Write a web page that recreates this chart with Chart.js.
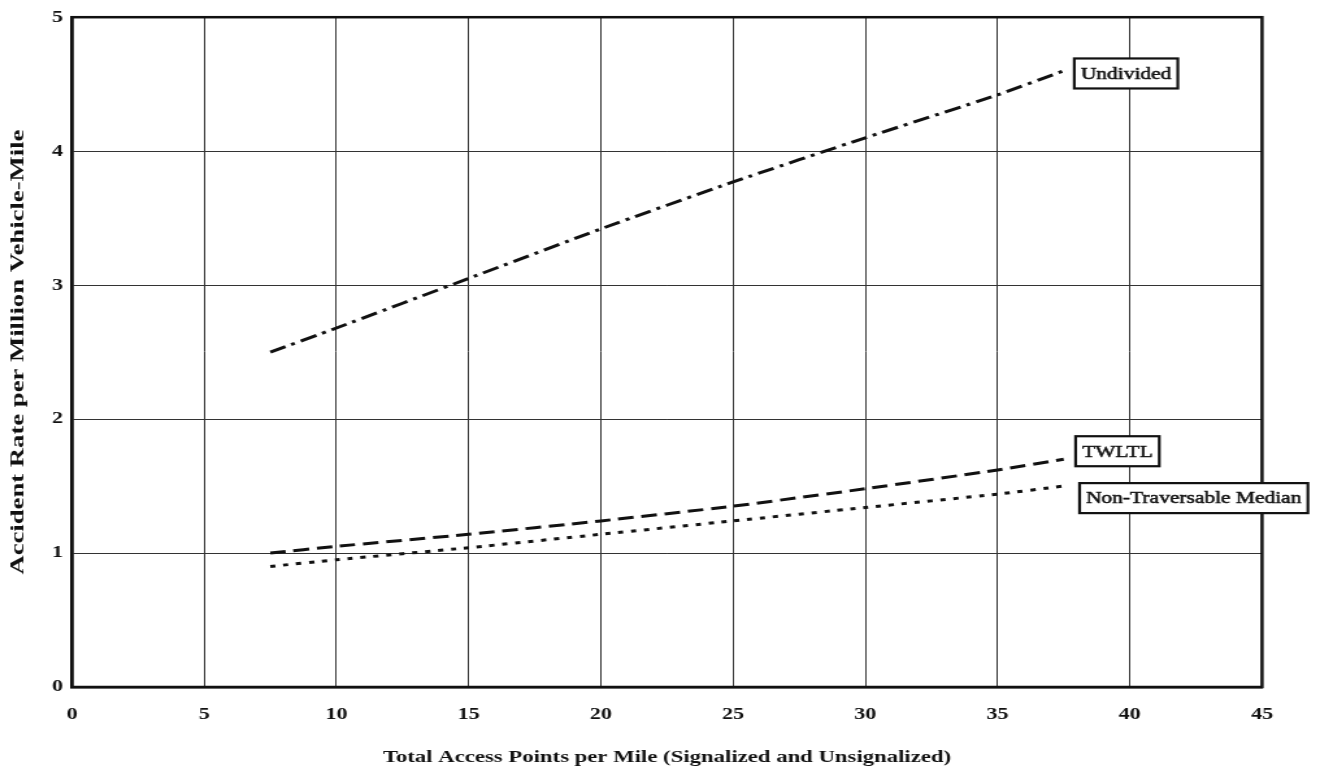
<!DOCTYPE html>
<html>
<head>
<meta charset="utf-8">
<script src="https://cdn.jsdelivr.net/npm/chart.js@4.4.1/dist/chart.umd.min.js"></script>
<style>
  html, body { margin: 0; padding: 0; background: #fff; overflow: hidden; }
  #wrap { width: 1016px; height: 772px; transform: scaleX(1.2992); transform-origin: 0 0; }
</style>
</head>
<body>
<div id="wrap"><canvas id="accidentChart" width="1016" height="772"></canvas></div>
<script>
// values
const accessPoints = [7.5, 10, 15, 20, 25, 30, 35, 37.5];
const undivided = [2.5, 2.68, 3.05, 3.42, 3.77, 4.1, 4.42, 4.6];
const twltl = [1.0, 1.05, 1.14, 1.24, 1.35, 1.48, 1.62, 1.7];
const nonTraversable = [0.9, 0.95, 1.04, 1.14, 1.24, 1.34, 1.44, 1.5];

const seriesNames = ["Undivided", "TWLTL", "Non-Traversable Median"];
// label boxes anchored in data units (left edge x, centre y)
const labelX = [37.9, 37.95, 38.1];
const labelY = [4.58, 1.76, 1.41];

const xTicks = [0, 5, 10, 15, 20, 25, 30, 35, 40, 45];
const yTicks = [0, 1, 2, 3, 4, 5];

const xTitle = "Total Access Points per Mile (Signalized and Unsignalized)";
const yTitle = "Accident Rate per Million Vehicle-Mile";

const SERIF = '"Liberation Serif", "Times New Roman", serif';
const toPoints = vals => vals.map((v, i) => ({ x: accessPoints[i], y: v }));

// frame, series labels and rotated y title
const extras = {
  id: "extras",
  afterDraw(chart) {
    const ctx = chart.ctx;
    const a = chart.chartArea;
    const xs = chart.scales.x, ys = chart.scales.y;

    ctx.save();
    ctx.strokeStyle = "#111";
    ctx.lineWidth = 2.5;
    ctx.strokeRect(a.left, a.top, a.right - a.left, a.bottom - a.top);

    ctx.font = "16.5px " + SERIF;
    ctx.textBaseline = "middle";
    seriesNames.forEach((name, i) => {
      const w = ctx.measureText(name).width;
      const bx = xs.getPixelForValue(labelX[i]);
      const by = ys.getPixelForValue(labelY[i]);
      const bw = w + 10, bh = 30;
      ctx.fillStyle = "#fff";
      ctx.fillRect(bx, by - bh / 2, bw, bh);
      ctx.lineWidth = 2.2;
      ctx.strokeStyle = "#111";
      ctx.strokeRect(bx, by - bh / 2, bw, bh);
      ctx.fillStyle = "#111";
      ctx.lineWidth = 0.5;
      ctx.fillText(name, bx + 5, by + 1);
      ctx.strokeText(name, bx + 5, by + 1);
    });

    ctx.translate(14, (a.top + a.bottom) / 2);
    ctx.rotate(-Math.PI / 2);
    ctx.font = "bold 16px " + SERIF;
    const tw = ctx.measureText(yTitle).width;
    ctx.scale(445 / tw, 0.95);
    ctx.textAlign = "center";
    ctx.fillText(yTitle, 0, 0);
    ctx.restore();
  }
};

new Chart(document.getElementById("accidentChart"), {
  type: "line",
  data: {
    datasets: [
      { label: seriesNames[0], data: toPoints(undivided), borderDash: [13, 5, 3, 5] },
      { label: seriesNames[1], data: toPoints(twltl), borderDash: [12, 6] },
      { label: seriesNames[2], data: toPoints(nonTraversable), borderDash: [4, 6] }
    ].map(d => ({
      ...d,
      borderColor: "#111",
      borderWidth: 3,
      pointRadius: 0,
      fill: false,
      tension: 0.2
    }))
  },
  options: {
    responsive: false,
    animation: false,
    layout: { padding: { top: 17, right: 44.6, bottom: 0, left: 0 } },
    plugins: { legend: { display: false }, tooltip: { enabled: false } },
    scales: {
      x: {
        type: "linear",
        min: 0,
        max: 45,
        afterBuildTicks: s => { s.ticks = xTicks.map(v => ({ value: v })); },
        afterFit: s => { s.height = 85; },
        grid: { color: "#333", lineWidth: 1, drawTicks: false },
        border: { color: "#111", width: 2.5 },
        ticks: { color: "#111", padding: 17, font: { family: SERIF, size: 17, weight: "bold" } },
        title: {
          display: true,
          text: xTitle,
          color: "#111",
          font: { family: SERIF, size: 17.5, weight: "bold" },
          padding: { top: 0, bottom: 4 }
        }
      },
      y: {
        min: 0,
        max: 5,
        afterBuildTicks: s => { s.ticks = yTicks.map(v => ({ value: v })); },
        afterFit: s => { s.width = 55.4; },
        grid: { color: "#333", lineWidth: 1, drawTicks: false },
        border: { color: "#111", width: 2.5 },
        ticks: { color: "#111", padding: 7, font: { family: SERIF, size: 17, weight: "bold" } }
      }
    }
  },
  plugins: [extras]
});
</script>
</body>
</html>
